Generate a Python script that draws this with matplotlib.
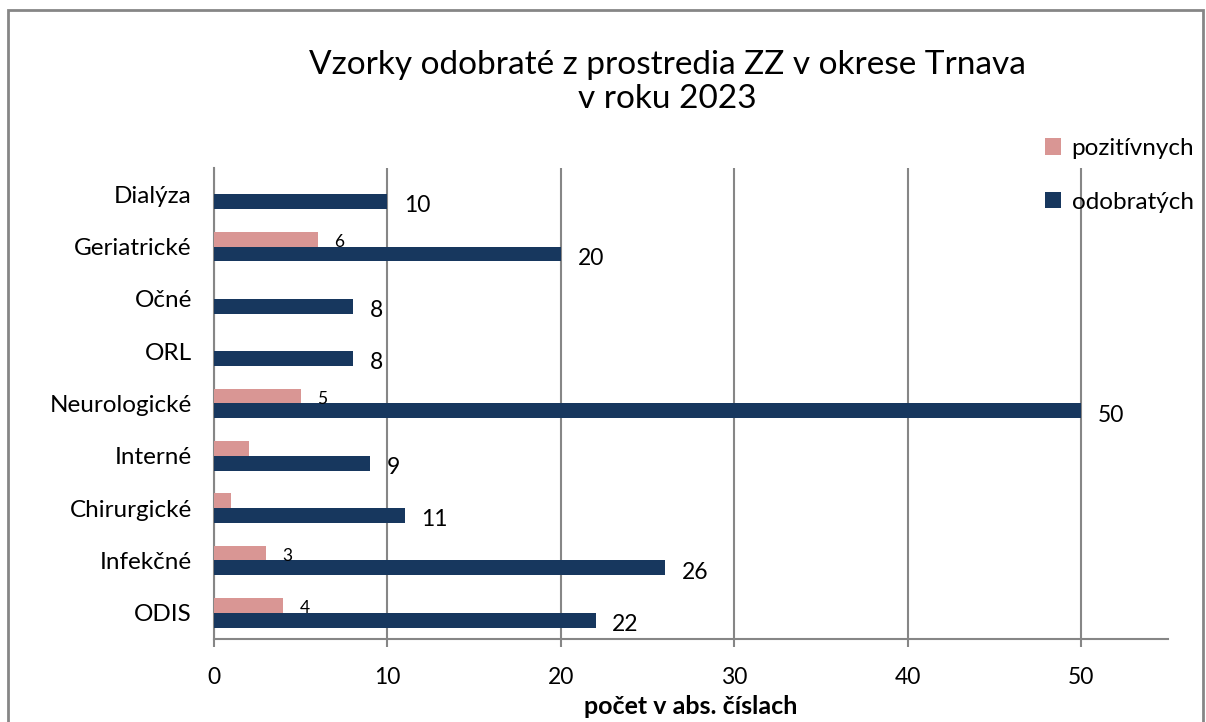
import matplotlib
matplotlib.use("Agg")
import matplotlib.pyplot as plt
from matplotlib.patches import Rectangle
import numpy as np

categories = ["ODIS", "Infekčné", "Chirurgické", "Interné", "Neurologické",
              "ORL", "Očné", "Geriatrické", "Dialýza"]
pozitivnych = [4, 3, 1, 2, 5, 0, 0, 6, 0]
odobratych = [22, 26, 11, 9, 50, 8, 8, 20, 10]
pos_labels_shown = [True, True, False, False, True, False, False, True, False]
xticks = [0, 10, 20, 30, 40, 50]
title = "Vzorky odobraté z prostredia ZZ v okrese Trnava\nv roku 2023"
xlabel = "počet v abs. číslach"

plt.rcParams['font.family'] = ['Lato', 'DejaVu Sans']

W, H = 1206, 722
fig = plt.figure(figsize=(W / 100, H / 100), dpi=100)
ax = fig.add_axes([214 / W, 1 - 639 / H, (1168 - 214) / W, (639 - 168) / H])

pink = "#D99694"
navy = "#17375E"
grid = "#868686"

y = np.arange(len(categories))
bh = 0.286
b1 = ax.barh(y + bh / 2, pozitivnych, height=bh, color=pink, label="pozitívnych", zorder=3)
b2 = ax.barh(y - bh / 2, odobratych, height=bh, color=navy, label="odobratých", zorder=3)

for yi, v, show in zip(y, pozitivnych, pos_labels_shown):
    if show:
        ax.annotate(str(v), (v, yi + bh / 2), xytext=(11.5, -2), textcoords="offset points",
                    ha="left", va="center", fontsize=12.5, color="black")
for yi, v in zip(y, odobratych):
    ax.annotate(str(v), (v, yi - bh / 2), xytext=(12, -3), textcoords="offset points",
                ha="left", va="center", fontsize=16.5, color="black")

ax.set_xlim(0, 55)
ax.set_ylim(-0.5, len(categories) - 0.5)
ax.set_xticks(xticks)
ax.set_xticklabels([str(t) for t in xticks], fontsize=16.5)
ax.set_yticks(y)
ax.set_yticklabels(categories, fontsize=17.5)
ax.tick_params(axis="y", length=0, pad=16)
ax.tick_params(axis="x", length=6, width=1.5, color=grid, direction="out", pad=14)
ax.xaxis.grid(True, color=grid, linewidth=1.5, zorder=0)
ax.set_axisbelow(True)
for s in ["top", "right"]:
    ax.spines[s].set_visible(False)
for s in ["left", "bottom"]:
    ax.spines[s].set_color(grid)
    ax.spines[s].set_linewidth(1.5)
ax.set_xlabel(xlabel, fontsize=18, fontweight="bold", labelpad=5)

fig.text(667 / W, 1 - 82 / H, title, ha="center", va="center", fontsize=24,
         linespacing=1.2)

fig.legend(handles=[b1, b2], loc="upper left", bbox_to_anchor=(1045 / W, 1 - 138 / H),
           frameon=False, fontsize=17.5, handlelength=0.65, handleheight=0.65,
           handletextpad=0.45, labelspacing=1.35, borderaxespad=0, borderpad=0)

fig.patches.append(Rectangle((8 / W, -0.05), (1203 - 8) / W, 1.05 - 10 / H,
                             transform=fig.transFigure, fill=False,
                             edgecolor=grid, linewidth=2))

fig.savefig("out.png", dpi=100)
